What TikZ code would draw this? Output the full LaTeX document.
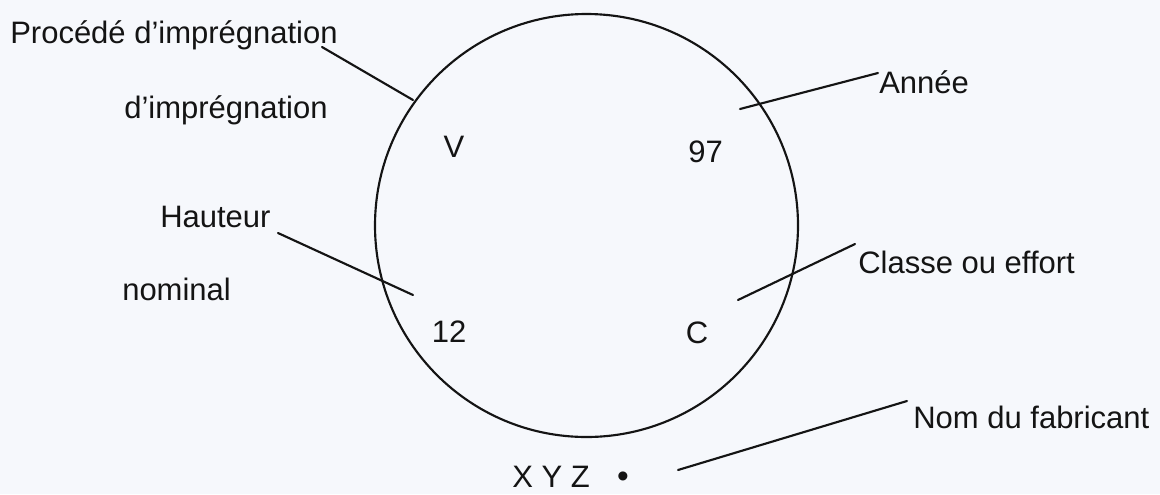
\documentclass[tikz,border=0pt]{standalone}
\usepackage{fontspec}
\setmainfont{Liberation Sans}
\definecolor{bg}{HTML}{F6F8FC}
\definecolor{ink}{HTML}{141414}
\tikzset{
  lbl/.style={inner sep=0pt, anchor=base west, text=ink, font=\fontsize{23.25}{28}\selectfont},
  ctr/.style={lbl, anchor=base},
  wire/.style={draw=ink, line width=1.6pt, line cap=round}
}
\begin{document}
\begin{tikzpicture}[x=0.75pt,y=-0.75pt]
\fill[bg] (0,0) rectangle (1160,494);
\useasboundingbox (0,0) rectangle (1160,494);
% disc
\node[draw=ink, circle, line width=1.6pt, minimum size=317.25pt, inner sep=0pt] (disc) at (586.5,225.5) {};
% labels outside
\node[lbl] (proc) at (10,43) {Procédé d’imprégnation};
\node[lbl] (impr) at (124,118) {d’imprégnation};
\node[lbl] (annee) at (879,93) {Année};
\node[lbl] (haut) at (160,227) {Hauteur};
\node[lbl] (nomi) at (122,300) {nominal};
\node[lbl] (classe) at (858,273) {Classe ou effort};
\node[lbl] (nom) at (913,428) {Nom du fabricant};
% marks inside
\node[ctr] (v) at (454,157) {V};
\node[ctr] (y97) at (705.5,162) {97};
\node[ctr] (h12) at (449,342) {12};
\node[ctr] (c) at (697,343) {C};
% bottom mark
\node[lbl] (xyz) at (512,487) {X Y Z};
\node[ctr, font=\fontsize{25}{28}\selectfont] (dot) at (623,487) {•};
% connector end points
\coordinate (p1) at (322,47);   \coordinate (p2) at (413,100);
\coordinate (a1) at (878,73);   \coordinate (a2) at (740,109);
\coordinate (h1) at (278,233);  \coordinate (h2) at (413,295);
\coordinate (c1) at (855,244);  \coordinate (c2) at (738,300);
\coordinate (n1) at (907,401);  \coordinate (n2) at (678,470);
% connectors
\draw[wire] (p1) -- (p2);
\draw[wire] (a1) -- (a2);
\draw[wire] (h1) -- (h2);
\draw[wire] (c1) -- (c2);
\draw[wire] (n1) -- (n2);
\end{tikzpicture}
\end{document}
